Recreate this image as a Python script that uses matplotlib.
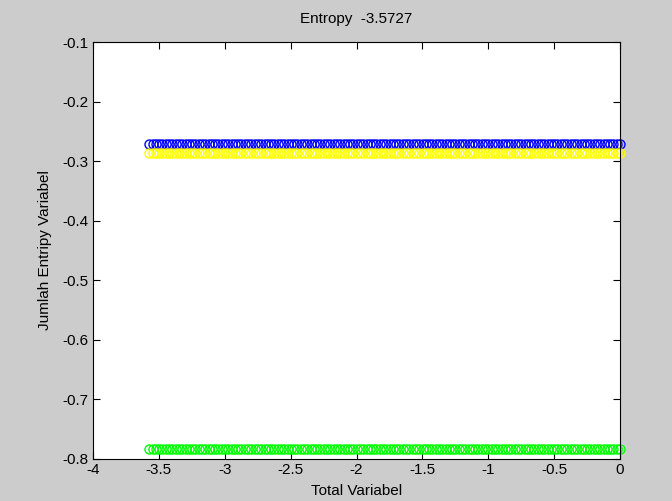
# Entropy per variable, MATLAB-style scatter

import numpy as np
from matplotlib import pyplot as plt

plt.rcParams['font.family'] = ['Liberation Sans', 'DejaVu Sans']

x_min_total = -3.5727   # total entropy, left end of the rows
n_points = 144
entropy_blue = -0.272
entropy_yellow = -0.286
entropy_green = -0.783

total_variabel = np.linspace(x_min_total, 0.0, n_points)

fig = plt.figure(figsize=(6.72, 5.01), dpi=100, facecolor='#cccccc')
ax = fig.add_axes([93 / 672, 1 - 459 / 501, 527 / 672, 417 / 501])

for val, col in [(entropy_blue, '#0000ff'), (entropy_yellow, '#ffff00'),
                 (entropy_green, '#00ff00')]:
    ax.plot(total_variabel, np.full(n_points, val), linestyle='None',
            marker='o', markersize=6.5, markerfacecolor='none',
            markeredgecolor=col, markeredgewidth=1.0, clip_on=False)

ax.set_xlim(-4, 0)
ax.set_ylim(-0.8, -0.1)
ax.set_xticks(np.arange(-4, 0.01, 0.5))
ax.set_xticklabels(['-4', '-3.5', '-3', '-2.5', '-2', '-1.5', '-1', '-0.5', '0'])
ax.set_yticks(np.arange(-0.8, -0.09, 0.1))
ax.set_yticklabels(['-0.8', '-0.7', '-0.6', '-0.5', '-0.4', '-0.3', '-0.2', '-0.1'])
ax.tick_params(direction='in', top=True, right=True, length=5, labelsize=11,
               pad=3)
for s in ax.spines.values():
    s.set_linewidth(0.8)

ax.set_xlabel('Total Variabel', fontsize=11, labelpad=5)
ax.set_ylabel('Jumlah Entripy Variabel', fontsize=11, labelpad=8)
ax.set_title('Entropy  -3.5727', fontsize=11, pad=14)

plt.savefig('out.png', dpi=100, facecolor=fig.get_facecolor())
plt.close()
